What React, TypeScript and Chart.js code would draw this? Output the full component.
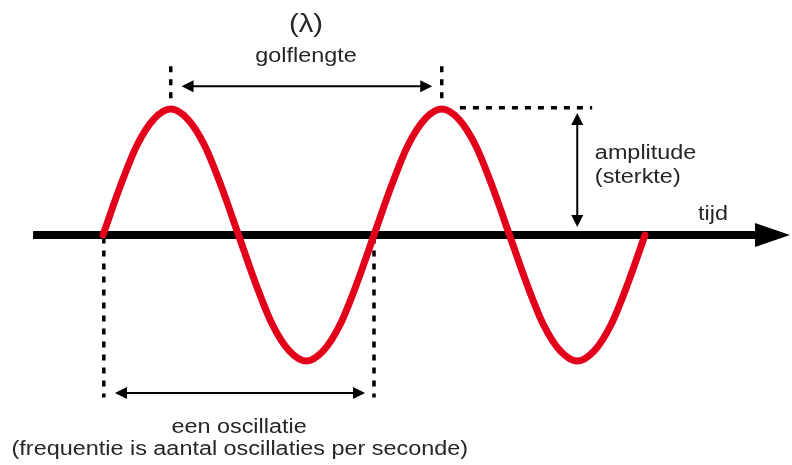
import React, { useEffect, useRef } from "react";
import { Chart, registerables } from "chart.js";

Chart.register(...registerables);

// time in oscillations (periods), sampled every 1/16 of a period
const timeValues: number[] = [
  0, 0.0625, 0.125, 0.1875, 0.25, 0.3125, 0.375, 0.4375, 0.5,
  0.5625, 0.625, 0.6875, 0.75, 0.8125, 0.875, 0.9375, 1,
  1.0625, 1.125, 1.1875, 1.25, 1.3125, 1.375, 1.4375, 1.5,
  1.5625, 1.625, 1.6875, 1.75, 1.8125, 1.875, 1.9375, 2,
];
// wave height, in amplitude units
const waveValues: number[] = [
  0, 0.38, 0.71, 0.92, 1, 0.92, 0.71, 0.38, 0,
  -0.38, -0.71, -0.92, -1, -0.92, -0.71, -0.38, 0,
  0.38, 0.71, 0.92, 1, 0.92, 0.71, 0.38, 0,
  -0.38, -0.71, -0.92, -1, -0.92, -0.71, -0.38, 0,
];

const labelLambda = "(λ)";
const labelWavelength = "golflengte";
const labelAmplitude = "amplitude";
const labelStrength = "(sterkte)";
const labelTime = "tijd";
const labelOscillation = "een oscillatie";
const labelFrequency = "(frequentie is aantal oscillaties per seconde)";

const FONT = '"Liberation Sans", Arial, Helvetica, sans-serif';
const TEXT_COLOR = "#262626";
const STRETCH = 1.17;

function arrowHead(ctx: CanvasRenderingContext2D, tx: number, ty: number, dx: number, dy: number, len: number, half: number) {
  const nx = -dy, ny = dx;
  ctx.beginPath();
  ctx.moveTo(tx, ty);
  ctx.lineTo(tx - dx * len + nx * half, ty - dy * len + ny * half);
  ctx.lineTo(tx - dx * len - nx * half, ty - dy * len - ny * half);
  ctx.closePath();
  ctx.fill();
}

function doubleArrow(ctx: CanvasRenderingContext2D, x1: number, y1: number, x2: number, y2: number) {
  const L = Math.hypot(x2 - x1, y2 - y1);
  const dx = (x2 - x1) / L, dy = (y2 - y1) / L;
  const len = 12, half = 6;
  ctx.save();
  ctx.strokeStyle = "#000";
  ctx.fillStyle = "#000";
  ctx.lineWidth = 2;
  ctx.setLineDash([]);
  ctx.beginPath();
  ctx.moveTo(x1 + dx * (len - 2), y1 + dy * (len - 2));
  ctx.lineTo(x2 - dx * (len - 2), y2 - dy * (len - 2));
  ctx.stroke();
  arrowHead(ctx, x2, y2, dx, dy, len, half);
  arrowHead(ctx, x1, y1, -dx, -dy, len, half);
  ctx.restore();
}

function dashed(ctx: CanvasRenderingContext2D, x1: number, y1: number, x2: number, y2: number) {
  ctx.save();
  ctx.strokeStyle = "#000";
  ctx.lineWidth = 3.5;
  ctx.setLineDash([6, 7]);
  ctx.beginPath();
  ctx.moveTo(x1, y1);
  ctx.lineTo(x2, y2);
  ctx.stroke();
  ctx.restore();
}

function text(ctx: CanvasRenderingContext2D, s: string, x: number, y: number, size: number, align: CanvasTextAlign) {
  ctx.save();
  ctx.translate(x, y);
  ctx.scale(STRETCH, 1);
  ctx.font = `${size}px ${FONT}`;
  ctx.fillStyle = TEXT_COLOR;
  ctx.textAlign = align;
  ctx.textBaseline = "middle";
  ctx.fillText(s, 0, 0);
  ctx.restore();
}

const diagramPlugin = {
  id: "waveDiagram",
  beforeDatasetsDraw(chart: any) {
    const ctx: CanvasRenderingContext2D = chart.ctx;
    const xs = chart.scales.x, ys = chart.scales.y;
    const px = (v: number) => xs.getPixelForValue(v);
    const py = (v: number) => ys.getPixelForValue(v);

    // time axis with arrow
    const y0 = py(0);
    const axStart = px(-0.258);
    const axTip = px(2.535);
    ctx.save();
    ctx.fillStyle = "#000";
    ctx.fillRect(axStart, y0 - 4, axTip - 34 - axStart, 8);
    ctx.beginPath();
    ctx.moveTo(axTip, y0);
    ctx.lineTo(axTip - 35, y0 - 12);
    ctx.lineTo(axTip - 35, y0 + 12);
    ctx.closePath();
    ctx.fill();
    ctx.restore();

    // wavelength markers
    dashed(ctx, px(0.25), py(1.34), px(0.25), py(1.06));
    dashed(ctx, px(1.25), py(1.34), px(1.25), py(1.06));
    doubleArrow(ctx, px(0.29), py(1.18), px(1.215), py(1.18));

    // amplitude markers
    dashed(ctx, px(1.317), py(1.01), px(1.805), py(1.01));
    doubleArrow(ctx, px(1.75), py(0.968), px(1.75), py(0.063));

    // one oscillation markers
    dashed(ctx, px(0.003), py(-0.02), px(0.003), py(-1.29));
    dashed(ctx, px(1.0), py(-0.02), px(1.0), py(-1.29));
    doubleArrow(ctx, px(0.044), py(-1.254), px(0.967), py(-1.254));

    // labels
    text(ctx, labelLambda, px(0.749), py(1.665), 25, "center");
    text(ctx, labelWavelength, px(0.749), py(1.42), 20, "center");
    text(ctx, labelAmplitude, px(1.815), py(0.65), 20, "left");
    text(ctx, labelStrength, px(1.815), py(0.46), 20, "left");
    text(ctx, labelTime, px(2.196), py(0.16), 20, "left");
    text(ctx, labelOscillation, px(0.502), py(-1.524), 20, "center");
    text(ctx, labelFrequency, px(0.505), py(-1.70), 20, "center");
  },
};

export default function App() {
  const ref = useRef<HTMLCanvasElement | null>(null);
  useEffect(() => {
    if (!ref.current) return;
    const chart = new Chart(ref.current, {
      type: "line",
      data: {
        datasets: [
          {
            data: timeValues.map((t, i) => ({ x: t, y: waveValues[i] })),
            borderColor: "#e3001b",
            borderWidth: 7,
            borderCapStyle: "round",
            pointRadius: 0,
            cubicInterpolationMode: "monotone",
            fill: false,
            clip: false as any,
          },
        ],
      },
      options: {
        responsive: false,
        animation: false,
        layout: { padding: { left: 103, right: 147, top: 109, bottom: 104 } },
        plugins: { legend: { display: false }, tooltip: { enabled: false } },
        events: [],
        scales: {
          x: { type: "linear", min: 0, max: 2, display: false },
          y: { type: "linear", min: -1, max: 1, display: false },
        },
      },
      plugins: [diagramPlugin],
    });
    return () => chart.destroy();
  }, []);
  return (
    <div style={{ position: "fixed", left: 0, top: 0, width: 792, height: 465, background: "#fff" }}>
      <canvas ref={ref} width={792} height={465} style={{ display: "block" }} />
    </div>
  );
}
